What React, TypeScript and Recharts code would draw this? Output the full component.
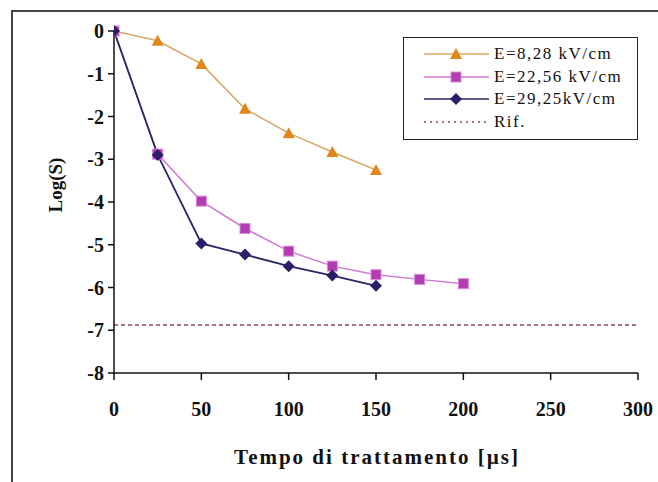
import React from "react";
import { LineChart, Line, XAxis, YAxis } from "recharts";

if (typeof document !== "undefined") {
  document.body.style.margin = "0";
}

const xTicks = [0, 50, 100, 150, 200, 250, 300];
const yTicks = [0, -1, -2, -3, -4, -5, -6, -7, -8];

const t1 = [0, 25, 50, 75, 100, 125, 150];
const e1 = [0, -0.23, -0.77, -1.82, -2.39, -2.83, -3.25];
const t2 = [0, 25, 50, 75, 100, 125, 150, 175, 200];
const e2 = [0, -2.88, -3.98, -4.62, -5.15, -5.5, -5.7, -5.81, -5.91];
const t3 = [0, 25, 50, 75, 100, 125, 150];
const e3 = [0, -2.9, -4.97, -5.23, -5.5, -5.72, -5.96];
const tRif = [0, 300];
const eRif = [-6.88, -6.88];

const names = ["E=8,28 kV/cm", "E=22,56 kV/cm", "E=29,25kV/cm", "Rif."];

const d1 = t1.map((t, i) => ({ t, v: e1[i] }));
const d2 = t2.map((t, i) => ({ t, v: e2[i] }));
const d3 = t3.map((t, i) => ({ t, v: e3[i] }));
const dRif = tRif.map((t, i) => ({ t, v: eRif[i] }));

const C1 = { line: "#D8A862", mark: "#E0861A" };
const C2 = { line: "#CF78CF", mark: "#B23CB2", edge: "#DA88DA" };
const C3 = { line: "#2B2566", mark: "#2C1F6A" };
const CR = "#8a4b4b";

const font = "'Liberation Serif', 'Times New Roman', serif";

const Tri = (p: any) => {
  const { cx, cy } = p;
  if (cx == null || cy == null) return <g key={p.index} />;
  return (
    <polygon
      key={p.index}
      points={`${cx},${cy - 6} ${cx - 6},${cy + 5} ${cx + 6},${cy + 5}`}
      fill={C1.mark}
    />
  );
};
const Sq = (p: any) => {
  const { cx, cy } = p;
  if (cx == null || cy == null) return <g key={p.index} />;
  return (
    <rect key={p.index} x={cx - 5} y={cy - 5} width={10} height={10} fill={C2.mark} stroke={C2.edge} strokeWidth={1} />
  );
};
const Dia = (p: any) => {
  const { cx, cy } = p;
  if (cx == null || cy == null) return <g key={p.index} />;
  return (
    <polygon
      key={p.index}
      points={`${cx},${cy - 6} ${cx + 6},${cy} ${cx},${cy + 6} ${cx - 6},${cy}`}
      fill={C3.mark}
    />
  );
};

const LegendBox = () => {
  const rows = [
    { name: names[0], color: C1.line, shape: "tri" },
    { name: names[1], color: C2.line, shape: "sq" },
    { name: names[2], color: C3.line, shape: "dia" },
    { name: names[3], color: CR, shape: "dash" },
  ];
  return (
    <div
      style={{
        position: "absolute",
        left: 403,
        top: 37,
        width: 233,
        height: 101,
        border: "1.5px solid #222",
        background: "#fff",
      }}
    >
      {rows.map((r, i) => (
        <div
          key={r.name}
          style={{ position: "absolute", left: 20, top: 5 + i * 22.5, height: 22, display: "flex", alignItems: "center" }}
        >
          <svg width={68} height={22} style={{ display: "block" }}>
            {r.shape === "dash" ? (
              <line x1={0} y1={11} x2={65} y2={11} stroke={CR} strokeWidth={1.5} strokeDasharray="2 4" />
            ) : (
              <line x1={0} y1={11} x2={65} y2={11} stroke={r.color} strokeWidth={1.5} />
            )}
            {r.shape === "tri" && <Tri cx={32} cy={11} index={0} />}
            {r.shape === "sq" && <Sq cx={32} cy={11} index={0} />}
            {r.shape === "dia" && <Dia cx={32} cy={11} index={0} />}
          </svg>
          <span
            style={{
              fontFamily: font,
              fontSize: 17,
              letterSpacing: 1.5,
              color: "#111",
              marginLeft: 2,
              whiteSpace: "nowrap",
            }}
          >
            {r.name}
          </span>
        </div>
      ))}
    </div>
  );
};

const tickStyle = { fontFamily: font, fontSize: 20, fontWeight: 700, fill: "#111" };

export default function App() {
  return (
    <div style={{ position: "relative", width: 658, height: 482, overflow: "hidden", background: "#fff" }}>
      <div
        style={{
          position: "absolute",
          left: 11,
          top: 10,
          width: 700,
          height: 500,
          borderLeft: "2px solid #444",
          borderTop: "2px solid #444",
          pointerEvents: "none",
        }}
      />
      <LineChart width={658} height={482} margin={{ top: 31, right: 20, left: 54, bottom: 69 }}>
        <XAxis
          xAxisId="b"
          type="number"
          dataKey="t"
          domain={[0, 300]}
          ticks={xTicks}
          allowDataOverflow
          tick={tickStyle}
          tickSize={7}
          tickMargin={22}
          axisLine={{ stroke: "#111", strokeWidth: 1.5 }}
          tickLine={{ stroke: "#111", strokeWidth: 1.5 }}
          height={40}
          label={(props: any) => (
            <text
              x={377}
              y={464}
              textAnchor="middle"
              style={{ fontFamily: font, fontSize: 21, fontWeight: 700, letterSpacing: 2, fill: "#111" }}
            >
              Tempo di trattamento [µs]
            </text>
          )}
        />
        <XAxis
          xAxisId="top"
          orientation="top"
          type="number"
          dataKey="t"
          domain={[0, 300]}
          tick={false}
          tickLine={false}
          axisLine={{ stroke: "#111", strokeWidth: 1.5 }}
          height={0}
        />
        <YAxis
          yAxisId="l"
          type="number"
          domain={[-8, 0]}
          ticks={yTicks}
          tick={tickStyle}
          tickSize={6}
          tickMargin={4}
          axisLine={{ stroke: "#111", strokeWidth: 1.5 }}
          tickLine={{ stroke: "#111", strokeWidth: 1.5 }}
          width={60}
          label={(props: any) => (
            <text
              x={55}
              y={185}
              textAnchor="middle"
              transform="rotate(-90 55 185)"
              dominantBaseline="central"
              style={{ fontFamily: font, fontSize: 19, fontWeight: 700, fill: "#111" }}
            >
              Log(S)
            </text>
          )}
        />
        <YAxis
          yAxisId="r"
          orientation="right"
          type="number"
          domain={[-8, 0]}
          tick={false}
          tickLine={false}
          axisLine={{ stroke: "#111", strokeWidth: 1.5 }}
          width={0}
        />
        <Line
          xAxisId="b"
          yAxisId="l"
          data={dRif}
          dataKey="v"
          name={names[3]}
          stroke={CR}
          strokeWidth={1.5}
          strokeDasharray="4 3"
          dot={false}
          isAnimationActive={false}
        />
        <Line
          xAxisId="b"
          yAxisId="l"
          data={d1}
          dataKey="v"
          name={names[0]}
          stroke={C1.line}
          strokeWidth={1.5}
          dot={Tri}
          isAnimationActive={false}
        />
        <Line
          xAxisId="b"
          yAxisId="l"
          data={d2}
          dataKey="v"
          name={names[1]}
          stroke={C2.line}
          strokeWidth={1.5}
          dot={Sq}
          isAnimationActive={false}
        />
        <Line
          xAxisId="b"
          yAxisId="l"
          data={d3}
          dataKey="v"
          name={names[2]}
          stroke={C3.line}
          strokeWidth={1.8}
          dot={Dia}
          isAnimationActive={false}
        />
      </LineChart>
      <LegendBox />
    </div>
  );
}
